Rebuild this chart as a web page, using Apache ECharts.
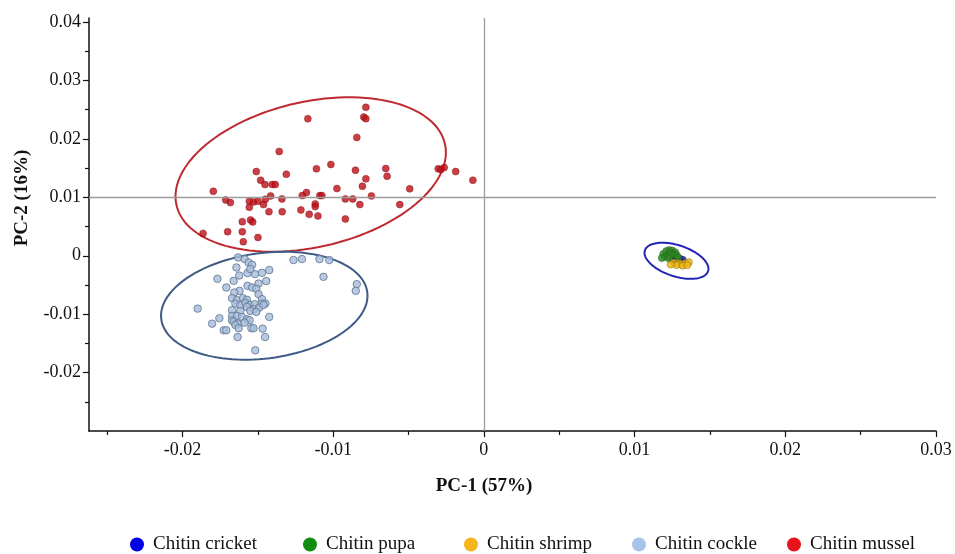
<!DOCTYPE html>
<html>
<head>
<meta charset="utf-8">
<script src="https://cdn.jsdelivr.net/npm/echarts@6/dist/echarts.min.js"></script>
<style>html,body{margin:0;padding:0;background:#fff}#c{width:955px;height:554px}</style>
</head>
<body>
<div id="c"></div>
<script>
// ---- data ----
var seriesNames = ['Chitin cricket', 'Chitin pupa', 'Chitin shrimp', 'Chitin cockle', 'Chitin mussel'];

var cricketPoints = [[0.0127,-0.0004],[0.0130,-0.0005],[0.0132,-0.0007],[0.0129,-0.0010],[0.0125,-0.0008]];

var pupaPoints = [[0.0119,0.0003],[0.0121,0.0008],[0.0123,0.0010],[0.0125,0.0009],[0.0127,0.0006],[0.0122,0.0000],
  [0.0120,-0.0002],[0.0124,0.0004],[0.0126,0.0002],[0.0128,0.0001],[0.0118,-0.0004],[0.0123,-0.0005],[0.0129,-0.0003]];

var shrimpPoints = [[0.0126,-0.0012],[0.0129,-0.0013],[0.0131,-0.0014],[0.0134,-0.0013],[0.0136,-0.0011],
  [0.0128,-0.0016],[0.0132,-0.0017],[0.0135,-0.0016],[0.0124,-0.0015]];

var cocklePoints = [[-0.01631,-0.00029],[-0.01587,-0.00057],[-0.01561,-0.00115],[-0.01538,-0.00155],[-0.01642,-0.00201],
  [-0.01263,-0.00074],[-0.01207,-0.00057],[-0.01091,-0.00057],[-0.01026,-0.00074],[-0.01568,-0.00297],[-0.01519,-0.00314],
  [-0.01472,-0.00292],[-0.01424,-0.00245],[-0.01550,-0.00228],[-0.01623,-0.00338],[-0.01768,-0.00395],[-0.01660,-0.00429],
  [-0.01064,-0.00361],[-0.01495,-0.00476],[-0.01444,-0.00434],[-0.01709,-0.00544],[-0.01568,-0.00515],[-0.01538,-0.00544],
  [-0.01510,-0.00567],[-0.01621,-0.00601],[-0.01656,-0.00630],[-0.01495,-0.00658],[-0.00843,-0.00486],[-0.00850,-0.00601],
  [-0.01671,-0.00726],[-0.01638,-0.00761],[-0.01598,-0.00726],[-0.01572,-0.00755],[-0.01472,-0.00743],[-0.01649,-0.00819],
  [-0.01616,-0.00846],[-0.01583,-0.00807],[-0.01554,-0.00841],[-0.01521,-0.00829],[-0.01472,-0.00819],[-0.01450,-0.00819],
  [-0.01899,-0.00905],[-0.01572,-0.00876],[-0.01528,-0.00915],[-0.01490,-0.00888],[-0.01462,-0.00841],[-0.01671,-0.00932],
  [-0.01616,-0.00944],[-0.01550,-0.00944],[-0.01510,-0.00961],[-0.01424,-0.01047],[-0.01755,-0.01070],[-0.01671,-0.01030],
  [-0.01638,-0.01030],[-0.01605,-0.01047],[-0.01572,-0.01087],[-0.01554,-0.01104],[-0.01671,-0.01104],[-0.01803,-0.01162],
  [-0.01660,-0.01128],[-0.01634,-0.01162],[-0.01587,-0.01145],[-0.01543,-0.01241],[-0.01726,-0.01276],[-0.01709,-0.01276],
  [-0.01649,-0.01185],[-0.01627,-0.01241],[-0.01528,-0.01241],[-0.01468,-0.01248],[-0.01634,-0.01391],[-0.01452,-0.01391],
  [-0.01517,-0.01619]];

var musselPoints = [[-0.01168,0.02347],[-0.01358,0.01785],[-0.01015,0.01562],[-0.01111,0.01488],[-0.01510,0.01442],
  [-0.01311,0.01396],[-0.01481,0.01293],[-0.01452,0.01219],[-0.01404,0.01219],[-0.01384,0.01219],[-0.00975,0.01150],
  [-0.01795,0.01104],[-0.01177,0.01082],[-0.01205,0.01030],[-0.01415,0.01025],[-0.01088,0.01030],[-0.01075,0.01030],
  [-0.01340,0.00973],[-0.01713,0.00956],[-0.01682,0.00910],[-0.01556,0.00932],[-0.01528,0.00922],[-0.01499,0.00932],
  [-0.01450,0.00967],[-0.01462,0.00876],[-0.01556,0.00829],[-0.01119,0.00888],[-0.01119,0.00841],[-0.01426,0.00755],
  [-0.01338,0.00755],[-0.01214,0.00785],[-0.01159,0.00709],[-0.01101,0.00682],[-0.01603,0.00584],[-0.01548,0.00613],
  [-0.01534,0.00579],[-0.01863,0.00383],[-0.01700,0.00412],[-0.01603,0.00412],[-0.01499,0.00314],[-0.01596,0.00240],
  [-0.00783,0.02541],[-0.00797,0.02374],[-0.00783,0.02347],[-0.00843,0.02026],[-0.00852,0.01464],[-0.00651,0.01494],
  [-0.00642,0.01361],[-0.00783,0.01317],[-0.00806,0.01190],[-0.00492,0.01145],[-0.00919,0.00973],[-0.00870,0.00973],
  [-0.00746,0.01025],[-0.00823,0.00876],[-0.00558,0.00876],[-0.00919,0.00630],[-0.00303,0.01488],[-0.00263,0.01511],
  [-0.00285,0.01476],[-0.00187,0.01442],[-0.00073,0.01293]];

// confidence ellipses: centre x, centre y, x half-extent, y half-extent, phase (tilt)
var ellipseCenterX = [-0.01149, -0.01457, 0.01278];
var ellipseCenterY = [0.01391, -0.00855, -0.00086];
var ellipseHalfX   = [0.00897, 0.00685, 0.00212];
var ellipseHalfY   = [0.01322, 0.00924, 0.00309];
var ellipsePhase   = [1.282, 1.384, 2.031];

// axis ticks
var xMajorTicks = [-0.02, -0.01, 0, 0.01, 0.02, 0.03];
var xMinorTicks = [-0.025, -0.015, -0.005, 0.005, 0.015, 0.025];
var yMajorTicks = [-0.02, -0.01, 0, 0.01, 0.02, 0.03, 0.04];
var yLabelTicks = [-0.02, -0.01, 0, 0.01, 0.02, 0.03, 0.04];
var yMinorTicks = [-0.025, -0.015, -0.005, 0.005, 0.015, 0.025, 0.035];
var refLineX = 0;
var refLineY = 0.01;

// ---- styles ----
var FONT = '"Liberation Serif", "Times New Roman", serif';
var legendColors = ['#0000E6', '#138C13', '#F5B51C', '#A6C4EA', '#E8141B'];
var ellipseColors = ['#BE2A30', '#3D5B85', '#2323B5'];
var legendLefts = [130, 303, 464, 632, 787];

var ellipseData = ellipseCenterX.map(function (cx, i) {
  return [cx, ellipseCenterY[i], ellipseHalfX[i], ellipseHalfY[i], ellipsePhase[i], i];
});

function fmt(v) { return String(Math.round(v * 100) / 100); }

var chart = echarts.init(document.getElementById('c'), null, { renderer: 'canvas' });

var option = {
  animation: false,
  backgroundColor: '#ffffff',
  textStyle: { fontFamily: FONT },
  grid: { left: 89, right: 19, top: 18, bottom: 123, outerBoundsMode: 'none', containLabel: false },
  xAxis: [{
    type: 'value', min: -0.0262, max: 0.03,
    axisLine: { show: true, onZero: false, lineStyle: { color: '#111', width: 1.5 } },
    axisTick: { show: true, customValues: xMajorTicks, length: 6, lineStyle: { color: '#111', width: 1.2 } },
    axisLabel: { customValues: xMajorTicks, formatter: fmt, fontFamily: FONT, fontSize: 18, color: '#111', margin: 10 },
    splitLine: { show: false }
  }, {
    type: 'value', min: -0.0262, max: 0.03, position: 'bottom', gridIndex: 0,
    axisLine: { show: false, onZero: false },
    axisTick: { show: true, customValues: xMinorTicks, length: 4, lineStyle: { color: '#111', width: 1.2 } },
    axisLabel: { show: false },
    splitLine: { show: false }
  }],
  yAxis: [{
    type: 'value', min: -0.03, max: 0.0407,
    axisLine: { show: true, onZero: false, lineStyle: { color: '#111', width: 1.5 } },
    axisTick: { show: true, customValues: yMajorTicks, length: 6, lineStyle: { color: '#111', width: 1.2 } },
    axisLabel: { customValues: yLabelTicks, formatter: fmt, fontFamily: FONT, fontSize: 18, color: '#111', margin: 8 },
    splitLine: { show: false }
  }, {
    type: 'value', min: -0.03, max: 0.0407, position: 'left', gridIndex: 0,
    axisLine: { show: false, onZero: false },
    axisTick: { show: true, customValues: yMinorTicks, length: 4, lineStyle: { color: '#111', width: 1.2 } },
    axisLabel: { show: false },
    splitLine: { show: false }
  }],
  legend: seriesNames.map(function (n, i) {
    return {
      left: legendLefts[i], top: 535, orient: 'horizontal', padding: 0,
      itemWidth: 14, itemHeight: 14, icon: 'circle', selectedMode: false,
      data: [{ name: n, itemStyle: { color: legendColors[i], borderWidth: 0, opacity: 1 } }],
      textStyle: { fontFamily: FONT, fontSize: 19, color: '#111', padding: [0, 0, 0, 4] }
    };
  }),
  graphic: [
    { type: 'text', x: 484, y: 486, style: { text: 'PC-1 (57%)', font: 'bold 19px ' + FONT, fill: '#111', align: 'center', verticalAlign: 'middle' } },
    { type: 'text', x: 22, y: 198, rotation: Math.PI / 2, style: { text: 'PC-2 (16%)', font: 'bold 19px ' + FONT, fill: '#111', align: 'center', verticalAlign: 'middle' } }
  ],
  series: [
    {
      type: 'custom', name: 'ellipses', silent: true, z: 1,
      data: ellipseData,
      encode: { x: 0, y: 1 },
      renderItem: function (params, api) {
        var cx = api.value(0), cy = api.value(1), a = api.value(2), b = api.value(3), ph = api.value(4);
        var idx = api.value(5);
        var pts = [];
        var N = 120;
        for (var k = 0; k <= N; k++) {
          var t = k / N * Math.PI * 2;
          pts.push(api.coord([cx + a * Math.cos(t), cy + b * Math.cos(t - ph)]));
        }
        return { type: 'polygon', shape: { points: pts }, style: { fill: 'none', stroke: ellipseColors[idx], lineWidth: 2 } };
      },
      markLine: {
        silent: true, symbol: 'none', label: { show: false },
        lineStyle: { color: '#9c9c9c', type: 'solid', width: 1.3 },
        data: [{ xAxis: refLineX }, { yAxis: refLineY }]
      }
    },
    {
      type: 'scatter', name: seriesNames[0], data: cricketPoints, symbolSize: 7, z: 3,
      itemStyle: { color: '#1C1C8A', borderColor: '#10105A', borderWidth: 0.6 }
    },
    {
      type: 'scatter', name: seriesNames[1], data: pupaPoints, symbolSize: 7, z: 3,
      itemStyle: { color: '#2E8A22', borderColor: '#1D5A16', borderWidth: 0.6 }
    },
    {
      type: 'scatter', name: seriesNames[2], data: shrimpPoints, symbolSize: 7, z: 3,
      itemStyle: { color: '#F2B90F', borderColor: '#8E7420', borderWidth: 0.8 }
    },
    {
      type: 'scatter', name: seriesNames[3], data: cocklePoints, symbolSize: 7.5, z: 3,
      itemStyle: { color: '#A7BDD8', borderColor: '#5C7493', borderWidth: 1 }
    },
    {
      type: 'scatter', name: seriesNames[4], data: musselPoints, symbolSize: 7, z: 3,
      itemStyle: { color: '#BC0F16', borderColor: '#850B10', borderWidth: 0.5 }
    }
  ]
};

chart.setOption(option);
</script>
</body>
</html>
